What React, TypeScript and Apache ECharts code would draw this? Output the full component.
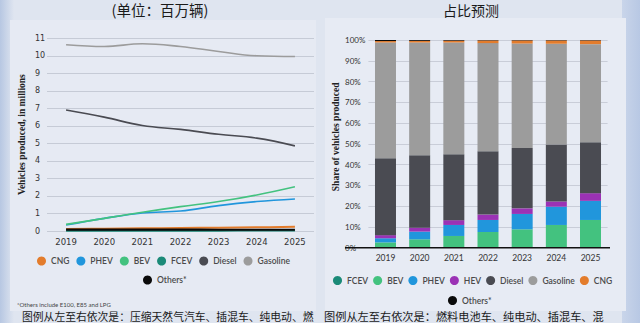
import React, { useEffect, useRef } from "react";
import * as echarts from "echarts";

const years = ["2019", "2020", "2021", "2022", "2023", "2024", "2025"];
const yTicksMillions = { min: 0, max: 11, interval: 1 };

// Left chart: vehicles produced, in millions
const cngM = [0.12, 0.13, 0.15, 0.17, 0.19, 0.21, 0.24];
const phevM = [0.34, 0.72, 1.03, 1.14, 1.45, 1.68, 1.83];
const bevM = [0.38, 0.72, 1.07, 1.39, 1.68, 2.06, 2.53];
const fcevM = [0.01, 0.01, 0.02, 0.02, 0.02, 0.03, 0.03];
const dieselM = [6.91, 6.5, 6.02, 5.8, 5.52, 5.3, 4.86];
const gasolineM = [10.63, 10.53, 10.69, 10.53, 10.25, 10.0, 9.96];
const othersM = [0.08, 0.08, 0.08, 0.08, 0.07, 0.07, 0.07];

// Right chart: share of vehicles produced (%)
const fcevS = [0.05, 0.05, 0.05, 0.05, 0.05, 0.05, 0.05];
const bevS = [2.5, 4.0, 5.6, 7.5, 8.8, 10.9, 13.3];
const phevS = [2.0, 3.7, 5.3, 5.8, 7.4, 8.8, 9.2];
const hevS = [1.5, 1.9, 2.3, 2.6, 2.7, 2.5, 3.7];
const dieselS = [37.0, 34.9, 31.8, 30.5, 29.1, 27.4, 24.5];
const gasolineS = [55.75, 54.25, 53.75, 52.05, 50.25, 48.55, 47.25];
const cngS = [0.7, 0.8, 0.9, 1.3, 1.5, 1.6, 1.8];
const othersS = [0.5, 0.4, 0.3, 0.2, 0.2, 0.2, 0.2];

const C = {
  CNG: "#e37c2c",
  PHEV: "#2196dc",
  BEV: "#43c27f",
  FCEV: "#1b8a78",
  HEV: "#9b32b5",
  Diesel: "#4a4b52",
  Gasoline: "#9c9c9c",
  Others: "#0a0a0a",
};

export default function App() {
  const ref = useRef<HTMLDivElement>(null);
  useEffect(() => {
    if (!ref.current) return;
    const chart = echarts.init(ref.current, undefined, { renderer: "svg" });
    const lineS = (name: string, data: number[], color: string, w = 1.6) => ({
      name,
      type: "line",
      data,
      xAxisIndex: 0,
      yAxisIndex: 0,
      smooth: 0.4,
      symbol: "none",
      lineStyle: { color, width: w },
      itemStyle: { color },
    });
    const barS = (name: string, data: number[], color: string) => ({
      name,
      type: "bar",
      stack: "share",
      data,
      xAxisIndex: 1,
      yAxisIndex: 1,
      barWidth: 21,
      itemStyle: { color },
    });
    const legendText = { fontSize: 8.5, color: "#4a4a4a", fontWeight: 600, fontFamily: "Lato" };
    const legendBase = {
      orient: "horizontal",
      icon: "circle",
      itemWidth: 9,
      itemHeight: 9,
      itemGap: 7,
      padding: 0,
      width: 300,
      selectedMode: false,
      textStyle: legendText,
    };
    chart.setOption({
      animation: false,
      backgroundColor: "#dfe5f0",
      graphic: [
        {
          type: "rect",
          shape: { x: 0, y: 0, width: 14, height: 323 },
          style: {
            fill: new echarts.graphic.LinearGradient(0, 0, 1, 0, [
              { offset: 0, color: "#b7c7e2" },
              { offset: 1, color: "#dfe5f0" },
            ]),
          },
          z: -10,
        },
        {
          type: "rect",
          shape: { x: 622, y: 0, width: 18, height: 323 },
          style: {
            fill: new echarts.graphic.LinearGradient(0, 0, 1, 0, [
              { offset: 0, color: "#c9d5ea" },
              { offset: 1, color: "#b8c8e4" },
            ]),
          },
          z: -10,
        },
        { type: "rect", shape: { x: 10, y: 20, width: 306, height: 291 }, style: { fill: "#e6eaf3" }, z: -5 },
        { type: "rect", shape: { x: 325, y: 18, width: 301, height: 293 }, style: { fill: "#e7ebf4" }, z: -5 },
        {
          type: "text",
          x: 160,
          y: 9,
          style: { text: "(单位：百万辆)", fill: "#1a1a1a", fontSize: 14.5, fontFamily: "Noto Sans CJK SC", align: "center", verticalAlign: "middle" },
        },
        {
          type: "text",
          x: 471,
          y: 9.5,
          style: { text: "占比预测", fill: "#1a1a1a", fontSize: 14, fontFamily: "Noto Sans CJK SC", align: "center", verticalAlign: "middle" },
        },
        {
          type: "text",
          x: 17,
          y: 304,
          style: { text: "*Others include E100, E85 and LPG", fill: "#444", fontSize: 6, fontFamily: "Lato", verticalAlign: "middle" },
        },
        {
          type: "text",
          x: 22,
          y: 316,
          style: { text: "图例从左至右依次是：压缩天然气汽车、插混车、纯电动、燃", fill: "#1a1a1a", fontSize: 10.8, fontFamily: "Noto Sans CJK SC", verticalAlign: "middle" },
        },
        {
          type: "text",
          x: 324,
          y: 316,
          style: { text: "图例从左至右依次是：燃料电池车、纯电动、插混车、混", fill: "#1a1a1a", fontSize: 11.2, fontFamily: "Noto Sans CJK SC", verticalAlign: "middle" },
        },
        {
          type: "line",
          shape: { x1: 345, y1: 247.7, x2: 610, y2: 247.7 },
          style: { stroke: "#111", lineWidth: 1.4 },
          z: 50,
        },
      ],
      grid: [
        { left: 47, right: 326, top: 38.3, bottom: 92 },
        { left: 368.4, right: 32.4, top: 40, bottom: 75.3 },
      ],
      xAxis: [
        {
          type: "category",
          gridIndex: 0,
          data: years,
          boundaryGap: true,
          axisLine: { show: false },
          axisTick: { show: false },
          axisLabel: { fontSize: 8.5, color: "#333", fontFamily: "DejaVu Sans", margin: 6 },
        },
        {
          type: "category",
          gridIndex: 1,
          data: years,
          axisLine: { show: false },
          axisTick: { show: false },
          axisLabel: { fontSize: 8.5, color: "#333", fontFamily: "Lato", margin: 6 },
        },
      ],
      yAxis: [
        {
          type: "value",
          gridIndex: 0,
          ...yTicksMillions,
          axisLabel: { fontSize: 8, color: "#333", fontFamily: "DejaVu Sans", align: "left", margin: 12, padding: [0, 0, 10, 0] },
          splitLine: { lineStyle: { color: "#c6cbd6", width: 1 } },
          name: "Vehicles produced, in millions",
          nameLocation: "middle",
          nameGap: 20,
          nameTextStyle: { fontSize: 9.5, fontWeight: "bold", color: "#222", fontFamily: "Liberation Serif" },
        },
        {
          type: "value",
          gridIndex: 1,
          min: 0,
          max: 100,
          interval: 10,
          axisLabel: { fontSize: 8, color: "#333", fontFamily: "Lato", align: "left", margin: 23.4, padding: [0, 0, 10, 0], formatter: "{value}%" },
          splitLine: { lineStyle: { color: "#c9cdd8", width: 1 } },
          name: "Share of vehicles produced",
          nameLocation: "middle",
          nameGap: 27,
          nameTextStyle: { fontSize: 9.5, fontWeight: "bold", color: "#222", fontFamily: "Liberation Serif", padding: [0, 0, 0, 14] },
        },
      ],
      legend: [
        { ...legendBase, left: 37, top: 256.5, data: ["CNG", "PHEV", "BEV", "FCEV", "Diesel", "Gasoline"] },
        { ...legendBase, left: 143, top: 275.5, data: ["Others*"] },
        { ...legendBase, itemGap: 5, left: 333, top: 276, data: ["FCEV", "BEV", "PHEV", "HEV", "Diesel", "Gasoline", "CNG"] },
        { ...legendBase, left: 448, top: 296, data: ["Others*"] },
      ],
      series: [
        lineS("Gasoline", gasolineM, C.Gasoline),
        lineS("Diesel", dieselM, C.Diesel),
        lineS("PHEV", phevM, C.PHEV),
        lineS("BEV", bevM, C.BEV),
        lineS("CNG", cngM, C.CNG, 2),
        lineS("FCEV", fcevM, C.FCEV, 2),
        lineS("Others*", othersM, C.Others, 2.2),
        barS("FCEV", fcevS, C.FCEV),
        barS("BEV", bevS, C.BEV),
        barS("PHEV", phevS, C.PHEV),
        barS("HEV", hevS, C.HEV),
        barS("Diesel", dieselS, C.Diesel),
        barS("Gasoline", gasolineS, C.Gasoline),
        barS("CNG", cngS, C.CNG),
        barS("Others*", othersS, C.Others),
      ],
    });
    return () => chart.dispose();
  }, []);
  return (
    <div
      ref={ref}
      style={{ position: "fixed", left: 0, top: 0, width: 640, height: 323 }}
    />
  );
}
